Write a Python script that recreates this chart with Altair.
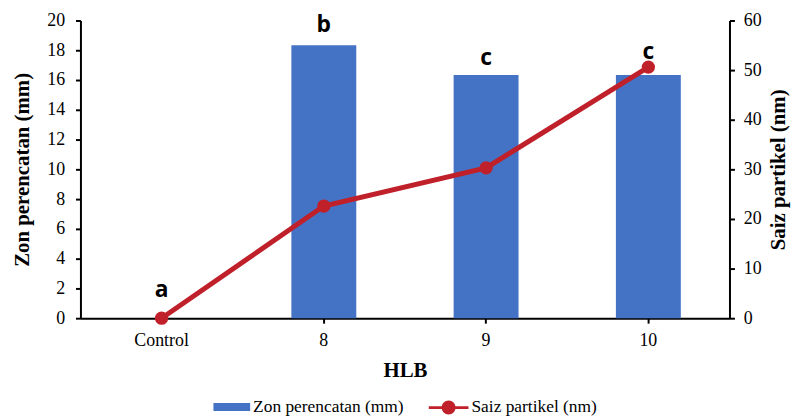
import altair as alt
import pandas as pd

categories = ["Control", "8", "9", "10"]
zone_mm = [0.0, 18.33, 16.33, 16.33]
size_nm = [0.0, 22.6, 30.3, 50.6]
letters = ["a", "b", "c", "c"]
letter_y = [1.9, 19.7, 17.5, 17.9]
series_names = ["Zon perencatan (mm)", "Saiz partikel (nm)"]

df = pd.DataFrame({
    "cat": categories,
    "zone": zone_mm,
    "size": size_nm,
    "letter": letters,
    "lab_y": letter_y,
    "s_bar": [series_names[0]] * len(categories),
    "s_line": [series_names[1]] * len(categories),
})

SERIF = "Liberation Serif"
BLUE = "#4472C4"
RED = "#C0202A"

xaxis = alt.Axis(
    title="HLB", labelAngle=0, labelFont=SERIF, labelFontSize=18, labelColor="black",
    titleFont=SERIF, titleFontSize=21, titleFontWeight="bold", titleColor="black",
    domainColor="black", domainWidth=2, tickColor="black", tickWidth=2, tickSize=5,
    labelPadding=9, titlePadding=10,
)
xenc = alt.X("cat:N", sort=categories, axis=xaxis,
             scale=alt.Scale(paddingInner=0.6, paddingOuter=0.3))

left_axis = alt.Axis(
    title="Zon perencatan (mm)", values=list(range(0, 21, 2)), grid=False,
    labelFont=SERIF, labelFontSize=18, labelColor="black",
    titleFont=SERIF, titleFontSize=21, titleFontWeight="bold", titleColor="black",
    domainColor="black", domainWidth=2, tickColor="black", tickWidth=2, tickSize=5,
    labelPadding=11, titlePadding=14,
)
right_axis = alt.Axis(
    title="Saiz partikel (nm)", orient="right", values=list(range(0, 61, 10)), grid=False,
    labelFont=SERIF, labelFontSize=18, labelColor="black",
    titleFont=SERIF, titleFontSize=21, titleFontWeight="bold", titleColor="black",
    titleAngle=270, titleBaseline="top",
    domainColor="black", domainWidth=2, tickColor="black", tickWidth=2, tickSize=5,
    labelPadding=9, titlePadding=6,
)

base = alt.Chart(df)

bars = base.mark_bar().encode(
    x=xenc,
    y=alt.Y("zone:Q", scale=alt.Scale(domain=[0, 20], nice=False), axis=left_axis),
    color=alt.Color("s_bar:N", scale=alt.Scale(domain=[series_names[0]], range=[BLUE]),
                    legend=alt.Legend(title=None, orient="none", legendX=134, legendY=371,
                                      symbolType="M-1,-0.22H1V0.22H-1Z", symbolSize=1369,
                                      symbolStrokeWidth=0, labelFont=SERIF, labelFontSize=17.5,
                                      labelColor="black", labelOffset=3)),
)
text = base.mark_text(font="Open Sans", fontWeight="bold", fontSize=23, color="black").encode(
    x=xenc,
    y=alt.Y("lab_y:Q", scale=alt.Scale(domain=[0, 20], nice=False), axis=left_axis),
    text="letter:N",
)
left = alt.layer(bars, text)

line = base.mark_line(strokeWidth=5).encode(
    x=xenc,
    y=alt.Y("size:Q", scale=alt.Scale(domain=[0, 60], nice=False), axis=right_axis),
    color=alt.Color("s_line:N", scale=alt.Scale(domain=[series_names[1]], range=[RED]),
                    legend=alt.Legend(title=None, orient="none", legendX=351, legendY=370,
                                      symbolType="M-1,-0.07H-0.34V0.07H-1Z M0.34,-0.07H1V0.07H0.34Z M-0.35,0A0.35,0.35,0,1,1,0.35,0A0.35,0.35,0,1,1,-0.35,0Z",
                                      symbolSize=1600, symbolStrokeWidth=0, symbolFillColor=RED,
                                      labelFont=SERIF, labelFontSize=17.5,
                                      labelColor="black", labelOffset=3)),
)
pts = base.mark_point(filled=True, size=180, opacity=1, color=RED).encode(
    x=xenc,
    y=alt.Y("size:Q", scale=alt.Scale(domain=[0, 60], nice=False), axis=right_axis),
)
right = alt.layer(line, pts)

chart = alt.layer(left, right).resolve_scale(y="independent", color="independent").properties(
    width=654, height=300,
    autosize=alt.AutoSizeParams(type="none"),
    padding={"left": 73, "top": 11, "right": 63, "bottom": 101},
).configure_view(stroke=None)

chart.save("out.html", embed_options={"renderer": "svg", "actions": False})
